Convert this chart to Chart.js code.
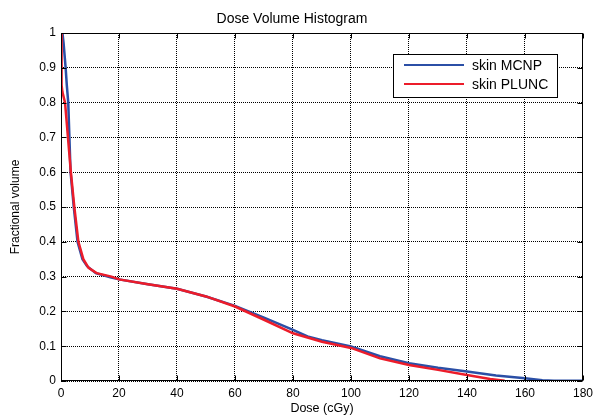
<!DOCTYPE html>
<html><head><meta charset="utf-8">
<script src="https://cdn.jsdelivr.net/npm/chart.js@4/dist/chart.umd.min.js"></script>
<style>html,body{margin:0;padding:0;background:#fff}</style>
</head><body>
<canvas id="c" width="598" height="419" style="width:598px;height:419px;display:block"></canvas>
<script>
const titleText = "Dose Volume Histogram";
const xAxisTitle = "Dose (cGy)";
const yAxisTitle = "Fractional volume";
const seriesLabels = ["skin MCNP", "skin PLUNC"];
const seriesColors = ["#2b4fa6", "#ec1c2a"];
const xTicks = [0, 20, 40, 60, 80, 100, 120, 140, 160, 180];
const yTicks = [0, 0.1, 0.2, 0.3, 0.4, 0.5, 0.6, 0.7, 0.8, 0.9, 1];

const mcnpDose   = [0, 0.5, 0.9, 1.3, 1.6, 2.0, 2.5, 2.9, 3.3, 4.4, 5.7, 7.4, 9, 12, 17, 20, 30, 40, 50, 60, 70, 80, 85, 90, 100, 110, 120, 130, 140, 150, 160, 166, 170, 180];
const mcnpVolume = [1, 1.0, 0.97, 0.93, 0.9, 0.85, 0.8, 0.7, 0.6, 0.5, 0.4, 0.35, 0.33, 0.31, 0.298, 0.292, 0.278, 0.265, 0.243, 0.216, 0.182, 0.147, 0.128, 0.117, 0.099, 0.071, 0.051, 0.038, 0.027, 0.016, 0.008, 0.002, 0.001, 0.001];

const pluncDose   = [0, 0.2, 0.5, 1.4, 2.4, 3.4, 4.6, 6.0, 7.7, 9.5, 12.3, 17.4, 20, 30, 40, 50, 60, 70, 80, 90, 100, 110, 120, 130, 140, 148, 153];
const pluncVolume = [1, 0.85, 0.83, 0.8, 0.7, 0.6, 0.5, 0.4, 0.35, 0.325, 0.31, 0.3, 0.292, 0.278, 0.265, 0.243, 0.214, 0.176, 0.137, 0.113, 0.095, 0.065, 0.046, 0.032, 0.017, 0.006, 0.001];

const toPts = (xs, ys) => xs.map((x, i) => ({ x: x, y: ys[i] }));

const frameAndLegend = {
  id: 'frameAndLegend',
  afterDraw(chart) {
    const ctx = chart.ctx;
    const a = chart.chartArea;
    const xs = chart.scales.x, ys = chart.scales.y;
    ctx.save();
    ctx.strokeStyle = '#000';
    ctx.lineWidth = 1;
    ctx.setLineDash([]);
    const L = Math.round(a.left) + 0.5, R = Math.round(a.right) - 0.5;
    const T = Math.round(a.top) + 0.5, B = Math.round(a.bottom) - 0.5;
    ctx.strokeRect(L, T, R - L, B - T);
    const tl = 5;
    ctx.beginPath();
    xTicks.forEach(v => {
      const p = Math.round(xs.getPixelForValue(v)) + 0.5;
      ctx.moveTo(p, B); ctx.lineTo(p, B - tl);
      ctx.moveTo(p, T); ctx.lineTo(p, T + tl);
    });
    yTicks.forEach(v => {
      const p = Math.round(ys.getPixelForValue(v)) + 0.5;
      ctx.moveTo(L, p); ctx.lineTo(L + tl, p);
      ctx.moveTo(R, p); ctx.lineTo(R - tl, p);
    });
    ctx.stroke();
    // legend
    const bx = 393.5, by = 54.5, bw = 164, bh = 43;
    ctx.fillStyle = '#fff';
    ctx.fillRect(bx, by, bw, bh);
    ctx.strokeRect(bx, by, bw, bh);
    const rows = [65, 84];
    ctx.font = '14px "Liberation Sans", Arial, sans-serif';
    ctx.textBaseline = 'middle';
    ctx.textAlign = 'left';
    seriesLabels.forEach((lab, i) => {
      ctx.strokeStyle = seriesColors[i];
      ctx.lineWidth = 2.2;
      ctx.beginPath();
      ctx.moveTo(404, rows[i]); ctx.lineTo(464, rows[i]);
      ctx.stroke();
      ctx.fillStyle = '#000';
      ctx.fillText(lab, 472, rows[i] + 1);
    });
    ctx.restore();
  }
};

const gridOpts = { color: '#000', lineWidth: 1, drawTicks: false };

new Chart(document.getElementById('c'), {
  type: 'line',
  data: {
    datasets: [
      { label: seriesLabels[0], data: toPts(mcnpDose, mcnpVolume), borderColor: seriesColors[0], backgroundColor: seriesColors[0], borderWidth: 2.5, pointRadius: 0, tension: 0, order: 1 },
      { label: seriesLabels[1], data: toPts(pluncDose, pluncVolume), borderColor: seriesColors[1], backgroundColor: seriesColors[1], borderWidth: 2.5, pointRadius: 0, tension: 0, order: 0 }
    ]
  },
  options: {
    responsive: false,
    animation: false,
    devicePixelRatio: 1,
    layout: { padding: { left: 0, right: 14, top: 0, bottom: 0 } },
    plugins: {
      legend: { display: false },
      tooltip: { enabled: false },
      title: {
        display: true, text: titleText, color: '#000',
        font: { family: '"Liberation Sans", Arial, sans-serif', size: 14, weight: 'normal' },
        padding: { top: 10.6, bottom: 5.6 }
      }
    },
    scales: {
      x: {
        type: 'linear', min: 0, max: 180,
        afterBuildTicks: s => { s.ticks = xTicks.map(v => ({ value: v })); },
        afterFit: s => { s.height = 38; },
        grid: Object.assign({}, gridOpts),
        border: { display: false, dash: [1, 1] },
        ticks: { color: '#000', padding: 5, maxRotation: 0, autoSkip: false,
          font: { family: '"Liberation Sans", Arial, sans-serif', size: 12 },
          callback: v => String(v) },
        title: { display: true, text: xAxisTitle, color: '#000',
          font: { family: '"Liberation Sans", Arial, sans-serif', size: 12.5 },
          padding: { top: 0, bottom: 2.5 } }
      },
      y: {
        type: 'linear', min: 0, max: 1,
        afterBuildTicks: s => { s.ticks = yTicks.map(v => ({ value: v })); },
        afterFit: s => { s.width = 61; },
        grid: Object.assign({}, gridOpts),
        border: { display: false, dash: [1, 1] },
        ticks: { color: '#000', padding: 5, autoSkip: false,
          font: { family: '"Liberation Sans", Arial, sans-serif', size: 12 },
          callback: v => String(Math.round(v * 10) / 10) },
        title: { display: true, text: yAxisTitle, color: '#000',
          font: { family: '"Liberation Sans", Arial, sans-serif', size: 12 },
          padding: { top: 8.8, bottom: 0 } }
      }
    }
  },
  plugins: [frameAndLegend]
});
</script>
</body></html>
